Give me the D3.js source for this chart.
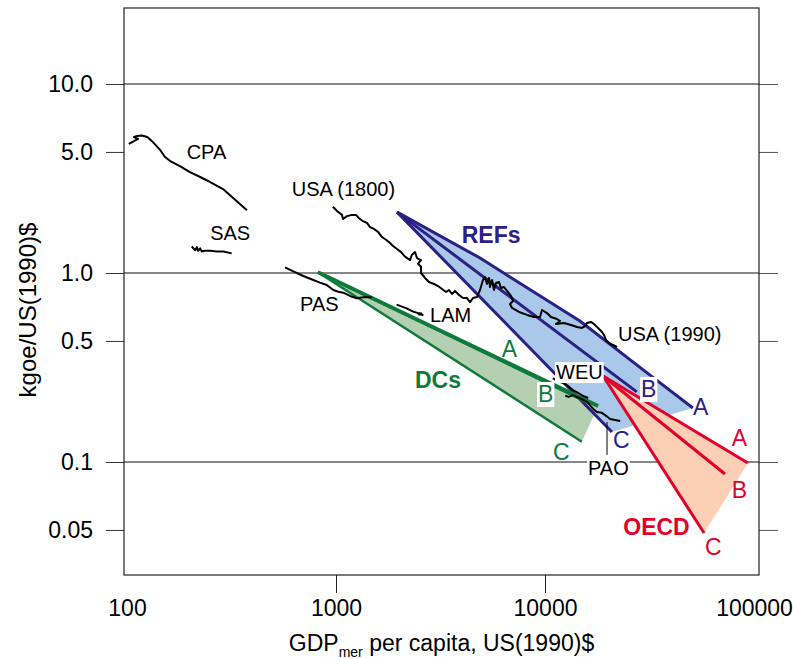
<!DOCTYPE html>
<html>
<head>
<meta charset="utf-8">
<script src="https://cdn.jsdelivr.net/npm/d3@7/dist/d3.min.js"></script>
<style>
  body { margin: 0; background: #fff; }
  svg { font-family: "Liberation Sans", Arial, sans-serif; }
</style>
</head>
<body>
<div id="chart"></div>
<script>
// historical paths: [GDP per capita US(1990)$, kgoe per US(1990)$]
var cpa = [[102,4.82],[108,4.99],[113,5.12],[108,5.24],[112,5.31],[118,5.34],[125,5.24],[133,4.93],[144,4.48],
  [152,4.11],[161,3.91],[179,3.68],[200,3.42],[224,3.22],[250,3.03],[288,2.78],[322,2.49],[375,2.15]];
var sas = [[204,1.38],[212,1.32],[216,1.37],[219,1.31],[224,1.35],[228,1.30],[236,1.31],[250,1.31],[269,1.30],[289,1.30],[317,1.27]];
var pas = [[570,1.07],[625,1.02],[697,0.964],[779,0.918],[838,0.889],[903,0.864],[971,0.813],[1026,0.796],
  [1084,0.787],[1167,0.756],[1256,0.735],[1351,0.744],[1482,0.744]];
var lam = [[1950,0.68],[2100,0.66],[2180,0.65],[2340,0.625],[2450,0.615],[2560,0.61],[2480,0.605],[2620,0.60]];
var usa = [[967,2.24],[1011,2.13],[1068,2.03],[1080,1.93],[1129,2.00],[1193,2.03],[1246,2.03],[1288,1.95],[1346,1.88],
  [1407,1.84],[1454,1.75],[1520,1.71],[1589,1.65],[1660,1.55],[1735,1.50],[1813,1.44],[1874,1.39],[1959,1.34],
  [2047,1.29],[2139,1.22],[2260,1.17],[2310,1.25],[2388,1.29],[2441,1.20],[2551,1.17],[2468,1.12],[2551,1.08],
  [2551,1.00],[2666,0.941],[2786,0.896],[2944,0.875],[3076,0.853],[3216,0.823],[3360,0.793],[3473,0.813],
  [3589,0.774],[3710,0.803],[3877,0.765],[4052,0.737],[4235,0.737],[4377,0.702],[4524,0.737],[4727,0.746],
  [4887,0.813],[5050,0.918],[5163,0.952],[5278,0.875],[5396,0.941],[5455,0.843],[5577,0.918],[5702,0.813],
  [5829,0.885],[6025,0.896],[6159,0.833],[6366,0.843],[6653,0.793],[6877,0.756],[7031,0.711],[6801,0.686],
  [6954,0.653],[7510,0.622],[8203,0.600],[8858,0.585],[9465,0.585],[9674,0.637],[10221,0.614],[10683,0.585],
  [11412,0.571],[11797,0.557],[11287,0.537],[12327,0.544],[13318,0.531],[14225,0.518],[15031,0.512],
  [15537,0.524],[15884,0.544],[16600,0.551],[17157,0.537],[17933,0.512],[18738,0.487],[19157,0.470],
  [19584,0.442],[20239,0.426],[21153,0.416],[22107,0.406]];
var weu = [[10900,0.278],[11500,0.268],[12200,0.262],[12900,0.252],[13600,0.240],[14400,0.232],[15200,0.224],[16100,0.218]];
var pao = [[12500,0.224],[13000,0.221],[13600,0.226],[14200,0.221],[15000,0.215],[15900,0.208],[16400,0.200],
  [17000,0.191],[17700,0.184],[18700,0.182],[19400,0.177],[20500,0.169],[21600,0.167],[22900,0.165]];

// scenario trajectories A, B, C
var refsA = [[1960,2.10],[4890,1.20],[14690,0.557],[30800,0.296],[51000,0.193]];
var refsB = [[1960,2.10],[27500,0.235]];
var refsC = [[1960,2.10],[20900,0.144]];
var dcsA = [[820,1.01],[17950,0.198]];
var dcsB = [[820,1.01],[16400,0.203]];
var dcsC = [[820,1.01],[15000,0.128]];
var oecdA = [[18970,0.285],[93500,0.0988]];
var oecdB = [[18970,0.285],[72600,0.0864]];
var oecdC = [[18970,0.285],[57700,0.0421]];

// ticks (the original places its 5 / 0.5 / 0.05 marks at these heights)
var xTicks = [100, 1000, 10000, 100000];
var xTickLabels = ["100", "1000", "10000", "100000"];
var yTicks = [10, 4.37, 1, 0.437, 0.1, 0.0437];
var yTickLabels = ["10.0", "5.0", "1.0", "0.5", "0.1", "0.05"];
var yGrid = [10, 1, 0.1];

// annotation anchors in data units: [text, gdp, intensity]
var regionLabels = [["CPA",193,4.01],["SAS",250,1.50],["USA (1800)",614,2.56],["PAS",673,0.630],
  ["LAM",2820,0.551],["USA (1990)",22360,0.439]];
var boxedLabels = [["WEU",11290,0.2748],["PAO",16060,0.0853]];
var refsLetters = [["A",51050,0.177],["B",28800,0.221],["C",21150,0.1186]];
var dcsLetters = [["A",6205,0.359],["B",9258,0.2077],["C",10920,0.1025]];
var oecdLetters = [["A",78220,0.1215],["B",78220,0.0645],["C",58300,0.0322]];
var groupLabels = [["REFs",3994,1.441],["DCs",2388,0.2463],["OECD",23690,0.0411]];
var paoLeader = [[19800,0.163],[19800,0.109]];

var navy = "#2b2083", blueFill = "#aac9ea";
var green = "#0e7b3b", greenFill = "#b5cfb3";
var red = "#e2002c", redFill = "#fdcfb5";
var font = "Liberation Sans, Arial, sans-serif";

var W = 793, H = 659;
var frame = {left: 124, right: 759, top: 8, bottom: 575};

var x = d3.scaleLog().domain([100, 100000]).range([127, 754]);
var y = d3.scaleLog().domain([0.1, 10]).range([462, 84]);

var svg = d3.select("#chart").append("svg")
  .attr("width", W).attr("height", H);

var line = d3.line()
  .x(function(d) { return x(d[0]); })
  .y(function(d) { return y(d[1]); });

// gridlines
svg.append("g").selectAll("line").data(yGrid).enter().append("line")
  .attr("x1", frame.left).attr("x2", frame.right)
  .attr("y1", function(d) { return y(d); }).attr("y2", function(d) { return y(d); })
  .style("stroke", "#111").style("stroke-width", 1);

// scenario fans: fill between A and C
function fan(a, c, fill) {
  svg.append("path").datum(a.concat([c[c.length - 1]]))
    .attr("d", function(d) { return line(d) + "Z"; })
    .style("fill", fill).style("stroke", "none");
}
fan(refsA, refsC, blueFill);
fan(dcsA, dcsC, greenFill);
fan(oecdA, oecdC, redFill);

function path(data, color, w) {
  svg.append("path").datum(data).attr("d", line)
    .style("fill", "none").style("stroke", color).style("stroke-width", w)
    .style("stroke-linejoin", "round");
}
path(refsA, navy, 3); path(refsB, navy, 3); path(refsC, navy, 3);
path(dcsC, green, 2.5); path(dcsB, green, 2.5); path(dcsA, green, 4);
path(oecdA, red, 3); path(oecdB, red, 3); path(oecdC, red, 3);

[cpa, sas, pas, lam, usa, weu, pao].forEach(function(d) { path(d, "#000", 2); });
path(paoLeader, "#000", 1);

// labels
var lg = svg.append("g").attr("font-family", font);
function labels(data, size, weight, color, boxed) {
  data.forEach(function(d) {
    var t = lg.append("text")
      .attr("x", x(d[1])).attr("y", y(d[2]))
      .attr("font-size", size).attr("font-weight", weight)
      .style("fill", color).text(d[0]);
    if (boxed) {
      var b = t.node().getBBox();
      lg.insert("rect", function() { return t.node(); })
        .attr("x", b.x - 1).attr("y", b.y + 1)
        .attr("width", b.width + 2).attr("height", b.height - 1)
        .style("fill", "#fff");
    }
  });
}
labels(regionLabels, 20, "normal", "#000", false);
labels(boxedLabels, 20, "normal", "#000", true);
labels([refsLetters[0], refsLetters[2]], 23, "normal", navy, false);
labels([refsLetters[1]], 23, "normal", navy, true);
labels([dcsLetters[0], dcsLetters[2]], 23, "normal", green, false);
labels([dcsLetters[1]], 23, "normal", green, true);
labels(oecdLetters, 23, "normal", red, false);
labels([groupLabels[0]], 23, "bold", navy, false);
labels([groupLabels[1]], 23, "bold", green, false);
labels([groupLabels[2]], 23, "bold", red, false);

// axes
var xAxis = d3.axisBottom(x).tickValues(xTicks)
  .tickFormat(function(d, i) { return xTickLabels[i]; })
  .tickSize(18).tickPadding(7);
svg.append("g").attr("transform", "translate(0," + frame.bottom + ")")
  .call(xAxis)
  .attr("font-family", font).attr("font-size", 23)
  .call(function(g) {
    g.select(".domain").remove();
    g.selectAll(".tick line").filter(function(d) { return d === 100 || d === 100000; }).remove();
    g.selectAll(".tick line").style("stroke", "#222");
    g.selectAll(".tick text").style("fill", "#000");
  });

var yAxisLeft = d3.axisLeft(y).tickValues(yTicks)
  .tickFormat(function(d, i) { return yTickLabels[i]; })
  .tickSize(18).tickPadding(13);
svg.append("g").attr("transform", "translate(" + frame.left + ",0)")
  .call(yAxisLeft)
  .attr("font-family", font).attr("font-size", 23)
  .call(function(g) {
    g.select(".domain").remove();
    g.selectAll(".tick line").style("stroke", "#333");
    g.selectAll(".tick text").style("fill", "#000");
  });

var yAxisRight = d3.axisRight(y).tickValues(yTicks).tickFormat("").tickSize(19);
svg.append("g").attr("transform", "translate(" + frame.right + ",0)")
  .call(yAxisRight)
  .call(function(g) {
    g.select(".domain").remove();
    g.selectAll(".tick line").style("stroke", "#555");
  });

// frame
svg.append("rect")
  .attr("x", frame.left).attr("y", frame.top)
  .attr("width", frame.right - frame.left).attr("height", frame.bottom - frame.top)
  .style("fill", "none").style("stroke", "#222").style("stroke-width", 1.2);

// axis titles
var xt = svg.append("text").attr("font-family", font).attr("font-size", 23)
  .attr("x", (frame.left + frame.right) / 2).attr("y", 651)
  .attr("text-anchor", "middle").style("fill", "#000");
xt.append("tspan").text("GDP");
xt.append("tspan").attr("font-size", 14).attr("dy", 6).text("mer");
xt.append("tspan").attr("dy", -6).text(" per capita, US(1990)$");

svg.append("text").attr("font-family", font).attr("font-size", 24)
  .attr("transform", "translate(36,310) rotate(-90)")
  .attr("text-anchor", "middle").style("fill", "#000")
  .text("kgoe/US(1990)$");
</script>
</body>
</html>
